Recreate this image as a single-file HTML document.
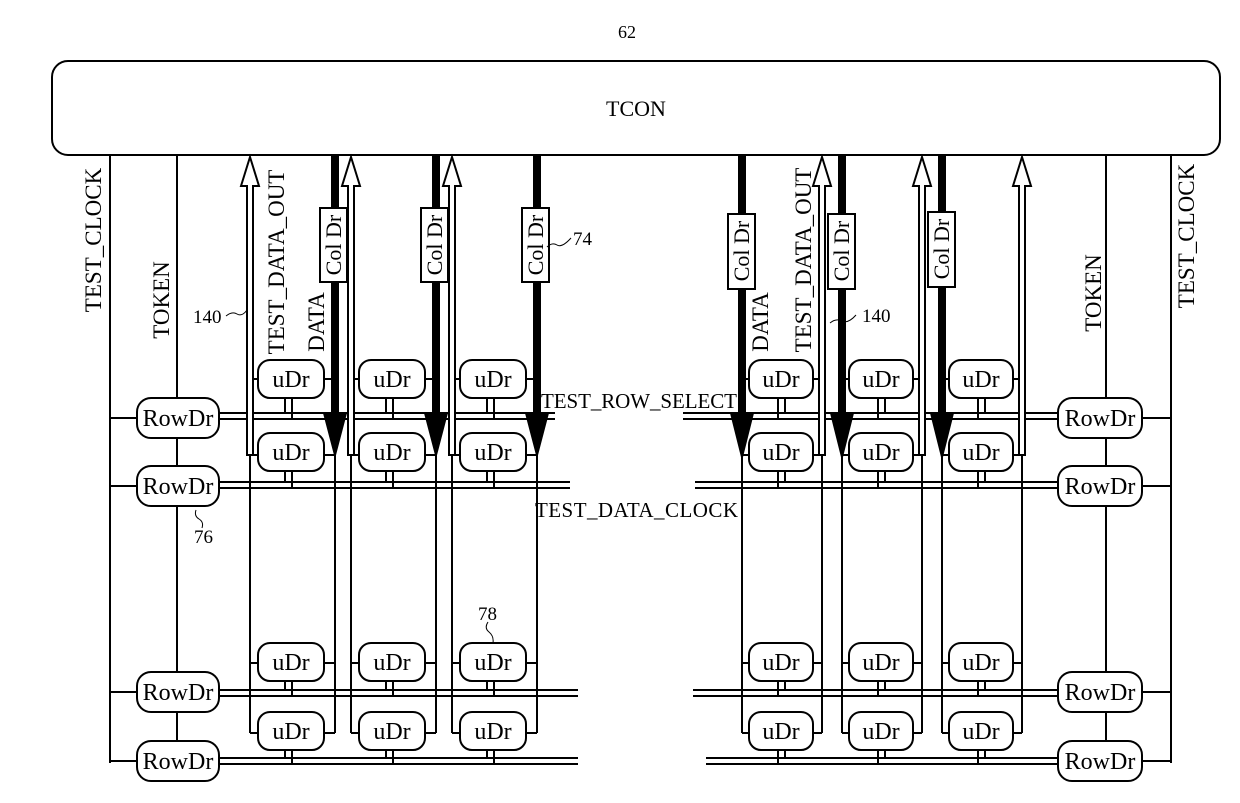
<!DOCTYPE html>
<html><head><meta charset="utf-8"><style>
html,body{margin:0;padding:0;background:#fff;}
svg{display:block;}
text{font-family:"Liberation Serif",serif;fill:#000;}
</style></head><body>
<svg width="1240" height="803" viewBox="0 0 1240 803" xmlns="http://www.w3.org/2000/svg">
<g stroke="#000" stroke-width="2" fill="none">
<rect x="52" y="61" width="1168" height="94" rx="16" fill="#fff"/>
<line x1="110" y1="155" x2="110" y2="763"/>
<line x1="177" y1="155" x2="177" y2="742"/>
<line x1="110" y1="418" x2="137" y2="418"/>
<line x1="110" y1="486" x2="137" y2="486"/>
<line x1="110" y1="692" x2="137" y2="692"/>
<line x1="110" y1="761" x2="137" y2="761"/>
<line x1="1171" y1="155" x2="1171" y2="763"/>
<line x1="1106" y1="155" x2="1106" y2="742"/>
<line x1="1142" y1="418" x2="1171" y2="418"/>
<line x1="1142" y1="486" x2="1171" y2="486"/>
<line x1="1142" y1="692" x2="1171" y2="692"/>
<line x1="1142" y1="761" x2="1171" y2="761"/>
<line x1="219" y1="413" x2="555" y2="413"/><line x1="219" y1="419" x2="555" y2="419"/>
<line x1="219" y1="482" x2="570" y2="482"/><line x1="219" y1="488" x2="570" y2="488"/>
<line x1="219" y1="690" x2="578" y2="690"/><line x1="219" y1="696" x2="578" y2="696"/>
<line x1="219" y1="758" x2="578" y2="758"/><line x1="219" y1="764" x2="578" y2="764"/>
<line x1="683" y1="413" x2="1058" y2="413"/><line x1="683" y1="419" x2="1058" y2="419"/>
<line x1="695" y1="482" x2="1058" y2="482"/><line x1="695" y1="488" x2="1058" y2="488"/>
<line x1="693" y1="690" x2="1058" y2="690"/><line x1="693" y1="696" x2="1058" y2="696"/>
<line x1="706" y1="758" x2="1058" y2="758"/><line x1="706" y1="764" x2="1058" y2="764"/>
<rect x="137" y="398" width="82" height="40" rx="14" fill="#fff"/>
<rect x="137" y="466" width="82" height="40" rx="14" fill="#fff"/>
<rect x="137" y="672" width="82" height="40" rx="14" fill="#fff"/>
<rect x="137" y="741" width="82" height="40" rx="14" fill="#fff"/>
<rect x="1058" y="398" width="84" height="40" rx="14" fill="#fff"/>
<rect x="1058" y="466" width="84" height="40" rx="14" fill="#fff"/>
<rect x="1058" y="672" width="84" height="40" rx="14" fill="#fff"/>
<rect x="1058" y="741" width="84" height="40" rx="14" fill="#fff"/>
</g>

<g stroke="#000" stroke-width="2" fill="none">
<g>
<polygon points="247,455 247,186 241,186 250,157 259,186 253,186 253,455" fill="#fff"/>
<line x1="250" y1="455" x2="250" y2="733"/>
<line x1="250" y1="455" x2="258" y2="455"/>
<line x1="253" y1="379" x2="258" y2="379"/>
<line x1="250" y1="663" x2="258" y2="663"/>
<line x1="250" y1="733" x2="258" y2="733"/>
<rect x="331" y="155" width="8" height="260" fill="#000" stroke="none"/>
<polygon points="324,413 346,413 335,455" fill="#000"/>
<line x1="335" y1="455" x2="335" y2="733"/>
<line x1="324" y1="379" x2="331" y2="379"/>
<line x1="324" y1="455" x2="335" y2="455"/>
<line x1="324" y1="663" x2="335" y2="663"/>
<line x1="324" y1="733" x2="335" y2="733"/>
<rect x="320" y="208" width="27" height="74" fill="#fff"/>
<line x1="285" y1="398" x2="285" y2="413"/><line x1="292" y1="398" x2="292" y2="419"/>
<line x1="285" y1="471" x2="285" y2="482"/><line x1="292" y1="471" x2="292" y2="488"/>
<line x1="285" y1="681" x2="285" y2="690"/><line x1="292" y1="681" x2="292" y2="696"/>
<line x1="285" y1="750" x2="285" y2="758"/><line x1="292" y1="750" x2="292" y2="764"/>
<rect x="258" y="360" width="66" height="38" rx="12" fill="#fff"/>
<rect x="258" y="433" width="66" height="38" rx="12" fill="#fff"/>
<rect x="258" y="643" width="66" height="38" rx="12" fill="#fff"/>
<rect x="258" y="712" width="66" height="38" rx="12" fill="#fff"/>
</g>
<g transform="translate(101,0)">
<polygon points="247,455 247,186 241,186 250,157 259,186 253,186 253,455" fill="#fff"/>
<line x1="250" y1="455" x2="250" y2="733"/>
<line x1="250" y1="455" x2="258" y2="455"/>
<line x1="253" y1="379" x2="258" y2="379"/>
<line x1="250" y1="663" x2="258" y2="663"/>
<line x1="250" y1="733" x2="258" y2="733"/>
<rect x="331" y="155" width="8" height="260" fill="#000" stroke="none"/>
<polygon points="324,413 346,413 335,455" fill="#000"/>
<line x1="335" y1="455" x2="335" y2="733"/>
<line x1="324" y1="379" x2="331" y2="379"/>
<line x1="324" y1="455" x2="335" y2="455"/>
<line x1="324" y1="663" x2="335" y2="663"/>
<line x1="324" y1="733" x2="335" y2="733"/>
<rect x="320" y="208" width="27" height="74" fill="#fff"/>
<line x1="285" y1="398" x2="285" y2="413"/><line x1="292" y1="398" x2="292" y2="419"/>
<line x1="285" y1="471" x2="285" y2="482"/><line x1="292" y1="471" x2="292" y2="488"/>
<line x1="285" y1="681" x2="285" y2="690"/><line x1="292" y1="681" x2="292" y2="696"/>
<line x1="285" y1="750" x2="285" y2="758"/><line x1="292" y1="750" x2="292" y2="764"/>
<rect x="258" y="360" width="66" height="38" rx="12" fill="#fff"/>
<rect x="258" y="433" width="66" height="38" rx="12" fill="#fff"/>
<rect x="258" y="643" width="66" height="38" rx="12" fill="#fff"/>
<rect x="258" y="712" width="66" height="38" rx="12" fill="#fff"/>
</g>
<g transform="translate(202,0)">
<polygon points="247,455 247,186 241,186 250,157 259,186 253,186 253,455" fill="#fff"/>
<line x1="250" y1="455" x2="250" y2="733"/>
<line x1="250" y1="455" x2="258" y2="455"/>
<line x1="253" y1="379" x2="258" y2="379"/>
<line x1="250" y1="663" x2="258" y2="663"/>
<line x1="250" y1="733" x2="258" y2="733"/>
<rect x="331" y="155" width="8" height="260" fill="#000" stroke="none"/>
<polygon points="324,413 346,413 335,455" fill="#000"/>
<line x1="335" y1="455" x2="335" y2="733"/>
<line x1="324" y1="379" x2="331" y2="379"/>
<line x1="324" y1="455" x2="335" y2="455"/>
<line x1="324" y1="663" x2="335" y2="663"/>
<line x1="324" y1="733" x2="335" y2="733"/>
<rect x="320" y="208" width="27" height="74" fill="#fff"/>
<line x1="285" y1="398" x2="285" y2="413"/><line x1="292" y1="398" x2="292" y2="419"/>
<line x1="285" y1="471" x2="285" y2="482"/><line x1="292" y1="471" x2="292" y2="488"/>
<line x1="285" y1="681" x2="285" y2="690"/><line x1="292" y1="681" x2="292" y2="696"/>
<line x1="285" y1="750" x2="285" y2="758"/><line x1="292" y1="750" x2="292" y2="764"/>
<rect x="258" y="360" width="66" height="38" rx="12" fill="#fff"/>
<rect x="258" y="433" width="66" height="38" rx="12" fill="#fff"/>
<rect x="258" y="643" width="66" height="38" rx="12" fill="#fff"/>
<rect x="258" y="712" width="66" height="38" rx="12" fill="#fff"/>
</g>

<g>
<polygon points="819,455 819,186 813,186 822,157 831,186 825,186 825,455" fill="#fff"/>
<line x1="822" y1="455" x2="822" y2="733"/>
<line x1="813" y1="379" x2="819" y2="379"/>
<line x1="813" y1="455" x2="822" y2="455"/>
<line x1="813" y1="663" x2="822" y2="663"/>
<line x1="813" y1="733" x2="822" y2="733"/>
<rect x="738" y="155" width="8" height="260" fill="#000" stroke="none"/>
<polygon points="731,413 753,413 742,457" fill="#000"/>
<line x1="742" y1="457" x2="742" y2="733"/>
<line x1="746" y1="379" x2="749" y2="379"/>
<line x1="742" y1="455" x2="749" y2="455"/>
<line x1="742" y1="663" x2="749" y2="663"/>
<line x1="742" y1="733" x2="749" y2="733"/>
<rect x="728" y="214" width="27" height="75" fill="#fff"/>
<line x1="778" y1="398" x2="778" y2="419"/><line x1="785" y1="398" x2="785" y2="413"/>
<line x1="778" y1="471" x2="778" y2="488"/><line x1="785" y1="471" x2="785" y2="482"/>
<line x1="778" y1="681" x2="778" y2="696"/><line x1="785" y1="681" x2="785" y2="690"/>
<line x1="778" y1="750" x2="778" y2="764"/><line x1="785" y1="750" x2="785" y2="758"/>
<rect x="749" y="360" width="64" height="38" rx="12" fill="#fff"/>
<rect x="749" y="433" width="64" height="38" rx="12" fill="#fff"/>
<rect x="749" y="643" width="64" height="38" rx="12" fill="#fff"/>
<rect x="749" y="712" width="64" height="38" rx="12" fill="#fff"/>
</g>
<g transform="translate(100,0)">
<polygon points="819,455 819,186 813,186 822,157 831,186 825,186 825,455" fill="#fff"/>
<line x1="822" y1="455" x2="822" y2="733"/>
<line x1="813" y1="379" x2="819" y2="379"/>
<line x1="813" y1="455" x2="822" y2="455"/>
<line x1="813" y1="663" x2="822" y2="663"/>
<line x1="813" y1="733" x2="822" y2="733"/>
<rect x="738" y="155" width="8" height="260" fill="#000" stroke="none"/>
<polygon points="731,413 753,413 742,457" fill="#000"/>
<line x1="742" y1="457" x2="742" y2="733"/>
<line x1="746" y1="379" x2="749" y2="379"/>
<line x1="742" y1="455" x2="749" y2="455"/>
<line x1="742" y1="663" x2="749" y2="663"/>
<line x1="742" y1="733" x2="749" y2="733"/>
<rect x="728" y="214" width="27" height="75" fill="#fff"/>
<line x1="778" y1="398" x2="778" y2="419"/><line x1="785" y1="398" x2="785" y2="413"/>
<line x1="778" y1="471" x2="778" y2="488"/><line x1="785" y1="471" x2="785" y2="482"/>
<line x1="778" y1="681" x2="778" y2="696"/><line x1="785" y1="681" x2="785" y2="690"/>
<line x1="778" y1="750" x2="778" y2="764"/><line x1="785" y1="750" x2="785" y2="758"/>
<rect x="749" y="360" width="64" height="38" rx="12" fill="#fff"/>
<rect x="749" y="433" width="64" height="38" rx="12" fill="#fff"/>
<rect x="749" y="643" width="64" height="38" rx="12" fill="#fff"/>
<rect x="749" y="712" width="64" height="38" rx="12" fill="#fff"/>
</g>
<g transform="translate(200,0)">
<polygon points="819,455 819,186 813,186 822,157 831,186 825,186 825,455" fill="#fff"/>
<line x1="822" y1="455" x2="822" y2="733"/>
<line x1="813" y1="379" x2="819" y2="379"/>
<line x1="813" y1="455" x2="822" y2="455"/>
<line x1="813" y1="663" x2="822" y2="663"/>
<line x1="813" y1="733" x2="822" y2="733"/>
<rect x="738" y="155" width="8" height="260" fill="#000" stroke="none"/>
<polygon points="731,413 753,413 742,457" fill="#000"/>
<line x1="742" y1="457" x2="742" y2="733"/>
<line x1="746" y1="379" x2="749" y2="379"/>
<line x1="742" y1="455" x2="749" y2="455"/>
<line x1="742" y1="663" x2="749" y2="663"/>
<line x1="742" y1="733" x2="749" y2="733"/>
<rect x="728" y="212" width="27" height="75" fill="#fff"/>
<line x1="778" y1="398" x2="778" y2="419"/><line x1="785" y1="398" x2="785" y2="413"/>
<line x1="778" y1="471" x2="778" y2="488"/><line x1="785" y1="471" x2="785" y2="482"/>
<line x1="778" y1="681" x2="778" y2="696"/><line x1="785" y1="681" x2="785" y2="690"/>
<line x1="778" y1="750" x2="778" y2="764"/><line x1="785" y1="750" x2="785" y2="758"/>
<rect x="749" y="360" width="64" height="38" rx="12" fill="#fff"/>
<rect x="749" y="433" width="64" height="38" rx="12" fill="#fff"/>
<rect x="749" y="643" width="64" height="38" rx="12" fill="#fff"/>
<rect x="749" y="712" width="64" height="38" rx="12" fill="#fff"/>
</g>
<path d="M226,316 q6,-5 11,-2 t10,-4" stroke-width="1"/>
<path d="M830,323 q6,-5 12,-2 t14,-6" stroke-width="1"/>
<path d="M547,247 q5,-5 10,-2 t14,-7" stroke-width="1"/>
<path d="M196,510 q-2,6 3,9 t3,9" stroke-width="1"/>
<path d="M488,622 q-4,6 1,10 t4,11" stroke-width="1"/>
</g>

<g font-size="24" text-anchor="middle">
<text x="627" y="38" font-size="18">62</text>
<text x="636" y="116" font-size="22">TCON</text>
<text x="178" y="426">RowDr</text><text x="178" y="494">RowDr</text>
<text x="178" y="700">RowDr</text><text x="178" y="769">RowDr</text>
<text x="1100" y="426">RowDr</text><text x="1100" y="494">RowDr</text>
<text x="1100" y="700">RowDr</text><text x="1100" y="769">RowDr</text>
<text x="291" y="387">uDr</text><text x="291" y="460">uDr</text><text x="291" y="670">uDr</text><text x="291" y="739">uDr</text>
<text x="392" y="387">uDr</text><text x="392" y="460">uDr</text><text x="392" y="670">uDr</text><text x="392" y="739">uDr</text>
<text x="493" y="387">uDr</text><text x="493" y="460">uDr</text><text x="493" y="670">uDr</text><text x="493" y="739">uDr</text>
<text x="781" y="387">uDr</text><text x="781" y="460">uDr</text><text x="781" y="670">uDr</text><text x="781" y="739">uDr</text>
<text x="881" y="387">uDr</text><text x="881" y="460">uDr</text><text x="881" y="670">uDr</text><text x="881" y="739">uDr</text>
<text x="981" y="387">uDr</text><text x="981" y="460">uDr</text><text x="981" y="670">uDr</text><text x="981" y="739">uDr</text>
<g font-size="22">
<text transform="translate(341,245) rotate(-90)">Col Dr</text>
<text transform="translate(442,245) rotate(-90)">Col Dr</text>
<text transform="translate(543,245) rotate(-90)">Col Dr</text>
<text transform="translate(749,251) rotate(-90)">Col Dr</text>
<text transform="translate(849,251) rotate(-90)">Col Dr</text>
<text transform="translate(949,249) rotate(-90)">Col Dr</text>
</g>
<g font-size="23">
<text transform="translate(101,240) rotate(-90)">TEST_CLOCK</text>
<text transform="translate(169,300) rotate(-90)">TOKEN</text>
<text transform="translate(284,262) rotate(-90)">TEST_DATA_OUT</text>
<text transform="translate(324,322) rotate(-90)">DATA</text>
<text transform="translate(768,322) rotate(-90)">DATA</text>
<text transform="translate(811,260) rotate(-90)">TEST_DATA_OUT</text>
<text transform="translate(1101,293) rotate(-90)">TOKEN</text>
<text transform="translate(1194,236) rotate(-90)">TEST_CLOCK</text>
</g>
</g>
<g font-size="21">
<text x="541" y="408" textLength="196">TEST_ROW_SELECT</text>
<text x="535" y="517" textLength="203">TEST_DATA_CLOCK</text>
<text x="193" y="323" font-size="19">140</text>
<text x="862" y="322" font-size="19">140</text>
<text x="573" y="245" font-size="19">74</text>
<text x="194" y="543" font-size="19">76</text>
<text x="478" y="620" font-size="19">78</text>
</g>
</svg>
</body></html>
